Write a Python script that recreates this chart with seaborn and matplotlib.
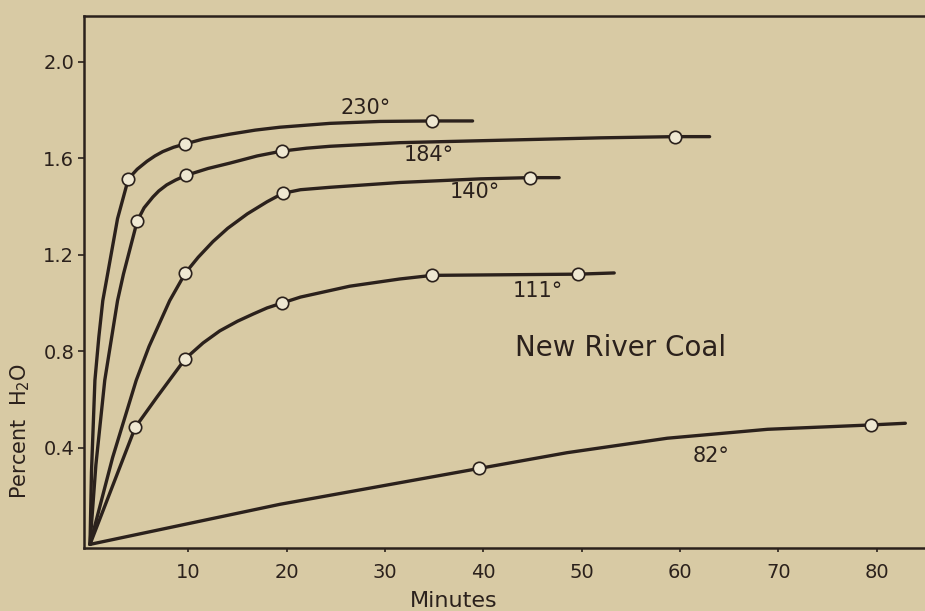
import seaborn as sns
import matplotlib.pyplot as plt
import pandas as pd

sns.set_theme(style="ticks")
plt.rcParams['font.family'] = ['DejaVu Sans']

# curves (minutes, percent H2O)
c230_x = [0, 0.15, 0.5, 0.9, 1.3, 1.7, 2.8, 3.9, 4.8, 5.8, 6.6, 7.4, 8.5, 9.7, 11.5, 14.2,
          16.8, 19.3, 24.4, 29.5, 34.8, 38.9]
c230_y = [0, 0.3, 0.68, 0.86, 1.01, 1.10, 1.35, 1.515, 1.555, 1.588, 1.61, 1.628, 1.646, 1.66,
          1.68, 1.70, 1.717, 1.729, 1.745, 1.753, 1.755, 1.755]

c184_x = [0, 0.6, 1.5, 2.8, 3.4, 4.8, 5.5, 6.4, 7.0, 7.8, 8.7, 9.8, 12.0, 14.2, 17.0, 19.5,
          22.0, 24.4, 31.5, 41.7, 51.9, 59.5, 63.0]
c184_y = [0, 0.33, 0.68, 1.01, 1.12, 1.34, 1.395, 1.44, 1.465, 1.49, 1.51, 1.53, 1.558, 1.58,
          1.61, 1.63, 1.642, 1.65, 1.665, 1.675, 1.685, 1.69, 1.69]

c140_x = [0, 2.3, 4.7, 6.0, 8.1, 9.7, 11.0, 12.5, 14.0, 16.0, 18.0, 19.6, 21.4, 24.4, 31.5,
          39.7, 44.7, 47.7]
c140_y = [0, 0.36, 0.68, 0.82, 1.01, 1.125, 1.19, 1.255, 1.31, 1.37, 1.42, 1.455, 1.47, 1.48,
          1.50, 1.515, 1.52, 1.52]

c111_x = [0, 4.6, 6.8, 9.7, 11.5, 13.2, 15.0, 16.6, 18.0, 19.5, 21.4, 26.4, 31.5, 34.8, 49.6, 53.3]
c111_y = [0, 0.485, 0.61, 0.77, 0.835, 0.885, 0.925, 0.955, 0.98, 1.0, 1.025, 1.07, 1.10, 1.115,
          1.12, 1.125]

c82_x = [0, 19.3, 39.6, 48.5, 58.7, 68.9, 79.4, 82.9]
c82_y = [0, 0.166, 0.315, 0.38, 0.44, 0.477, 0.495, 0.502]

# measured points (open circles)
m230_x = [3.9, 9.7, 34.8]
m230_y = [1.515, 1.66, 1.755]
m184_x = [4.8, 9.8, 19.5, 59.5]
m184_y = [1.34, 1.53, 1.63, 1.69]
m140_x = [9.7, 19.6, 44.7]
m140_y = [1.125, 1.455, 1.52]
m111_x = [4.6, 9.7, 19.5, 34.8, 49.6]
m111_y = [0.485, 0.77, 1.0, 1.115, 1.12]
m82_x = [39.6, 79.4]
m82_y = [0.315, 0.495]

temps = ['230°', '184°', '140°', '111°', '82°']
label_x = [28.0, 34.4, 39.1, 45.5, 63.1]
label_y = [1.81, 1.615, 1.46, 1.05, 0.367]

x_ticks = [10, 20, 30, 40, 50, 60, 70, 80]
y_ticks = [0.4, 0.8, 1.2, 1.6, 2.0]

ink = '#2b211c'
paper = '#d8caa4'

curves = {'230°': (c230_x, c230_y), '184°': (c184_x, c184_y), '140°': (c140_x, c140_y),
          '111°': (c111_x, c111_y), '82°': (c82_x, c82_y)}
marks = {'230°': (m230_x, m230_y), '184°': (m184_x, m184_y), '140°': (m140_x, m140_y),
         '111°': (m111_x, m111_y), '82°': (m82_x, m82_y)}

rows = []
for t, (xs, ys) in curves.items():
    for x, y in zip(xs, ys):
        rows.append({'temp': t, 'Minutes': x, 'pct': y})
df = pd.DataFrame(rows)

rows = []
for t, (xs, ys) in marks.items():
    for x, y in zip(xs, ys):
        rows.append({'temp': t, 'Minutes': x, 'pct': y})
dm = pd.DataFrame(rows)

fig = plt.figure(figsize=(9.25, 6.11), dpi=100, facecolor=paper)
ax = fig.add_axes([84 / 925, 63 / 611, 841 / 925, 532 / 611])
ax.set_facecolor(paper)

pal = {t: ink for t in temps}
sns.lineplot(data=df, x='Minutes', y='pct', hue='temp', palette=pal, sort=False,
             estimator=None, legend=False, linewidth=2.4, solid_joinstyle='round', ax=ax)
sns.scatterplot(data=dm, x='Minutes', y='pct', hue='temp', palette=pal, legend=False,
                s=80, linewidth=1.2, zorder=5, ax=ax)
# open circles
for coll in ax.collections:
    coll.set_facecolor('#efe8d2')
    coll.set_edgecolor(ink)

for t, lx, ly in zip(temps, label_x, label_y):
    ax.text(lx, ly, t, ha='center', va='center', fontsize=15, color=ink)
ax.text(53.9, 0.815, 'New River Coal', ha='center', va='center', fontsize=20, color=ink)

ax.set_xlim(-0.61, 84.9)
ax.set_ylim(-0.015, 2.19)
ax.set_xticks(x_ticks)
ax.set_xticklabels([str(v) for v in x_ticks])
ax.set_yticks(y_ticks)
ax.set_yticklabels([f'{v:.1f}' for v in y_ticks])

for side in ['left', 'top', 'bottom']:
    ax.spines[side].set_color(ink)
    ax.spines[side].set_linewidth(1.8)
ax.spines['right'].set_visible(False)

ax.tick_params(axis='x', length=3, width=1.2, color=ink, labelcolor=ink, labelsize=14, pad=8)
ax.tick_params(axis='y', length=4, width=1.2, color=ink, labelcolor=ink, labelsize=14, pad=3)

ax.set_xlabel('Minutes', fontsize=16, color=ink)
ax.xaxis.set_label_coords(0.44, -0.08)
ax.set_ylabel('Percent  H$_2$O', fontsize=15, color=ink)
ax.yaxis.set_label_coords(-0.062, 0.22)

fig.savefig('out.png', dpi=100, facecolor=paper)
